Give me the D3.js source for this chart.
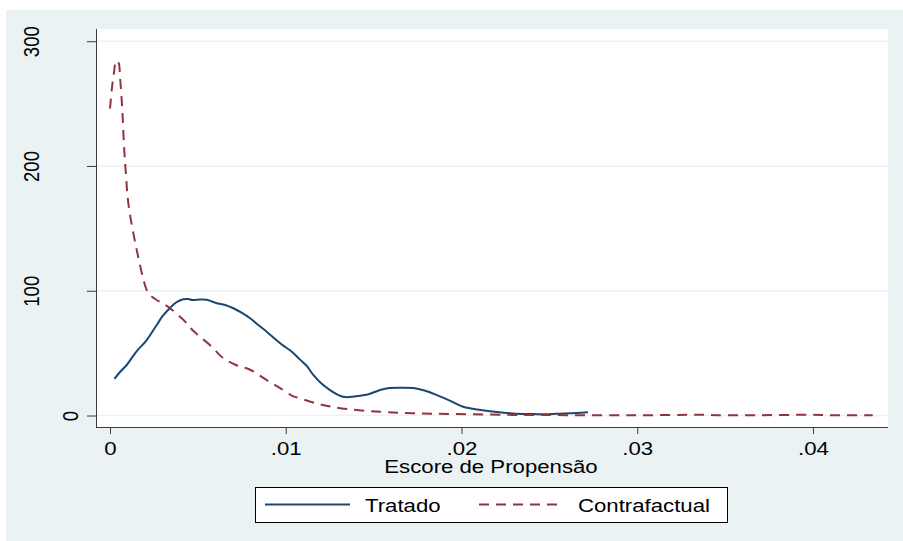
<!DOCTYPE html>
<html><head><meta charset="utf-8">
<script src="https://cdn.jsdelivr.net/npm/d3@7"></script>
<style>html,body{margin:0;padding:0;background:#fff;}svg{display:block;}</style>
</head><body>
<script>
// ---- data ----
const xTicks = [0, 0.01, 0.02, 0.03, 0.04];
const xTickLabels = ["0", ".01", ".02", ".03", ".04"];
const yTicks = [0, 100, 200, 300];
const yTickLabels = ["0", "100", "200", "300"];
const xTitle = "Escore de Propensão";
const seriesNames = ["Tratado", "Contrafactual"];

const tratadoX = [0.00025,0.00057,0.00095,0.00148,0.00209,0.00266,0.0030,0.0034,0.00376,0.00417,0.00444,0.0047,0.00512,0.0055,0.0058,0.00607,0.00655,0.00702,0.00746,0.00797,0.0084,0.00892,0.0094,0.00986,0.0103,0.0108,0.0112,0.01157,0.0120,0.01252,0.0130,0.01337,0.0139,0.0145,0.0149,0.01537,0.0159,0.0165,0.01726,0.0179,0.0186,0.0194,0.0201,0.0211,0.0220,0.0229,0.0241,0.0248,0.0254,0.0265,0.0272];
const tratadoY = [29.3,34.9,40.5,50.9,60.5,72.6,79.8,86,90.6,93.2,93.4,92.6,93,92.8,91.4,90,88.6,86,82.6,78,73,67.2,61.3,56,51.7,45,39.7,32.5,26,20.4,16.4,14.8,15.2,16.4,18,20.4,22,22.3,22,20,16.4,11.6,7,4.4,2.8,1.7,1.2,1.0,1.4,2,2.6];

const contraX = [0.0,0.00011,0.00023,0.00031,0.00042,0.00051,0.00057,0.0007,0.00081,0.00091,0.0010,0.00114,0.00133,0.00152,0.0017,0.0019,0.00205,0.0022,0.00245,0.00266,0.0030,0.0034,0.00387,0.00437,0.00472,0.00512,0.00575,0.00645,0.00717,0.0080,0.0089,0.00968,0.0104,0.0108,0.0121,0.0135,0.0154,0.0172,0.0195,0.0229,0.026,0.030,0.0335,0.0345,0.037,0.0398,0.041,0.0434];
const contraY = [246,262.5,275,282.6,284.4,281.8,271.6,244.9,212.8,192.8,175.4,160.7,146,132.7,121,109,102,97.5,94.5,92.6,89.8,86.2,80.6,73.9,68.1,63.2,55.7,45.9,40.5,36.5,28.5,22,15.6,13.8,8.4,5.2,3,1.8,1.2,0.5,0.3,0.2,0.6,0.3,0.3,0.6,0.3,0.3];

// ---- layout ----
const W = 903, H = 541;
const plot = {l: 96, r: 888, t: 29, b: 427};
const FS = 18.5, STRETCH = 1.2;
const FONT = "'Liberation Sans', Arial, Helvetica, sans-serif";
const navy = "#1a476f", maroon = "#90353b", bg = "#eaf2f3";

const svg = d3.select("body").append("svg").attr("width", W).attr("height", H);
svg.append("rect").attr("width", W).attr("height", H).attr("fill", "#fff");
svg.append("rect").attr("x", 6).attr("y", 10).attr("width", W - 6).attr("height", H - 10).attr("fill", bg);
svg.append("rect").attr("x", plot.l).attr("y", plot.t).attr("width", plot.r - plot.l).attr("height", plot.b - plot.t).attr("fill", "#fff");

const x = d3.scaleLinear().domain([-0.000797, 0.04427]).range([plot.l, plot.r]);
const y = d3.scaleLinear().domain([-9.2, 309.8]).range([plot.b, plot.t]);

// gridlines
svg.append("g").selectAll("line").data(yTicks).join("line")
  .attr("x1", plot.l).attr("x2", plot.r)
  .attr("y1", d => y(d)).attr("y2", d => y(d))
  .attr("stroke", bg).attr("stroke-width", 1.6);

// lines
function drawSeries(xs, ys, color, dash) {
  const pts = xs.map((v, i) => [v, ys[i]]);
  svg.append("path").datum(pts)
    .attr("fill", "none").attr("stroke", color).attr("stroke-width", 2)
    .attr("stroke-dasharray", dash)
    .attr("d", d3.line().x(d => x(d[0])).y(d => y(d[1])).curve(d3.curveCatmullRom.alpha(0.5)));
}
drawSeries(tratadoX, tratadoY, navy, null);
drawSeries(contraX, contraY, maroon, "10,7");

// axes
const axisColor = "#3c3c3c";
const gx = svg.append("g").attr("transform", `translate(0,${plot.b})`)
  .call(d3.axisBottom(x).tickValues(xTicks).tickFormat((d, i) => xTickLabels[i]).tickSize(7).tickSizeOuter(0));
gx.select(".domain").attr("stroke", axisColor).attr("d", `M${plot.l},0.5H${plot.r}`);
gx.selectAll(".tick line").attr("stroke", axisColor);
gx.selectAll(".tick text").attr("y", null).attr("dy", null)
  .attr("transform", `translate(0,28) scale(${STRETCH},1)`)
  .attr("font-family", FONT).attr("font-size", FS).attr("fill", "#000").attr("text-anchor", "middle");

const gy = svg.append("g").attr("transform", `translate(${plot.l},0)`)
  .call(d3.axisLeft(y).tickValues(yTicks).tickFormat((d, i) => yTickLabels[i]).tickSize(9).tickSizeOuter(0));
gy.select(".domain").attr("stroke", axisColor).attr("d", `M0.5,${plot.t}V${plot.b}`);
gy.selectAll(".tick line").attr("stroke", axisColor);
gy.selectAll(".tick text").attr("x", null).attr("dy", null)
  .attr("transform", (d, i) => {
    const len = yTickLabels[i].length;
    const bx = 78 - (len - 1) * 19.5 - plot.l;
    return `translate(${bx},0) scale(${STRETCH},1) rotate(-90)`;
  })
  .attr("font-family", FONT).attr("font-size", FS).attr("fill", "#000").attr("text-anchor", "middle");

// x title
svg.append("text").attr("transform", `translate(${(plot.l + plot.r) / 2 - 1},473) scale(${STRETCH},1)`)
  .attr("text-anchor", "middle").attr("font-family", FONT).attr("font-size", FS).text(xTitle);

// legend
const lg = svg.append("g");
lg.append("rect").attr("x", 255.5).attr("y", 487.5).attr("width", 472).attr("height", 35)
  .attr("fill", "#fff").attr("stroke", "#000").attr("stroke-width", 1);
const legendItems = [
  {name: seriesNames[0], color: navy, dash: null, x0: 265, x1: 350, tx: 365},
  {name: seriesNames[1], color: maroon, dash: "10,7", x0: 479, x1: 563, tx: 578}
];
legendItems.forEach(it => {
  lg.append("line").attr("x1", it.x0).attr("x2", it.x1).attr("y1", 504.5).attr("y2", 504.5)
    .attr("stroke", it.color).attr("stroke-width", 2).attr("stroke-dasharray", it.dash);
  lg.append("text").attr("transform", `translate(${it.tx},512) scale(${STRETCH},1)`)
    .attr("font-family", FONT).attr("font-size", FS).text(it.name);
});
</script>
</body></html>
